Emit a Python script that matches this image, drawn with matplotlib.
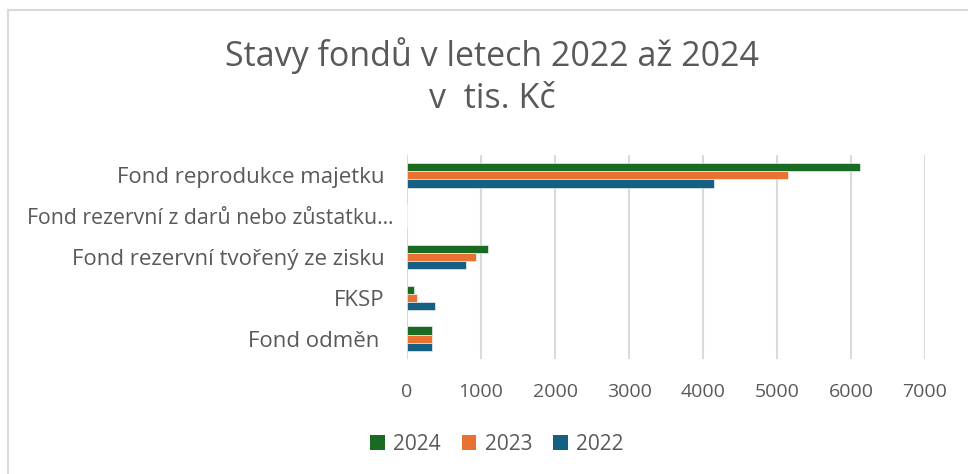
import numpy as np
import matplotlib.pyplot as plt
import matplotlib.transforms as mtransforms
from matplotlib.patches import Patch
from matplotlib.lines import Line2D

categories = [
    "Fond reprodukce majetku",
    "Fond rezervní z darů nebo zůstatku…",
    "Fond rezervní tvořený ze zisku",
    "FKSP",
    "Fond odměn ",
]
years = ["2024", "2023", "2022"]
values_2024 = [6125, 0, 1095, 95, 338]
values_2023 = [5150, 0, 932, 135, 338]
values_2022 = [4150, 0, 797, 378, 338]

colors = ["#196B24", "#E97132", "#156082"]
TEXT = "#595959"
GRID = "#D9D9D9"
FONT = "Open Sans"

plt.rcParams["font.family"] = [FONT, "DejaVu Sans"]

fig = plt.figure(figsize=(9.68, 4.74), dpi=100)
ax = fig.add_axes([407 / 968, 115 / 474, (925 - 407) / 968, (359 - 155) / 474])

y = np.arange(len(categories))
h = 0.2
series = [values_2024, values_2023, values_2022]
for i, (vals, col) in enumerate(zip(series, colors)):
    ax.barh(y + (i - 1) * h, vals, height=h, color=col, edgecolor="white", linewidth=0.4, zorder=3)

ax.set_xlim(0, 7000)
ax.set_ylim(len(categories) - 0.5, -0.5)
ax.set_xticks(np.arange(0, 7001, 1000))
ax.set_yticks(y)
ax.set_yticklabels(categories)
ax.grid(axis="x", color=GRID, linewidth=1.5, zorder=0)
for s in ax.spines.values():
    s.set_visible(False)
ax.tick_params(axis="both", length=0, colors=TEXT, labelsize=14)
ax.tick_params(axis="y", pad=16, labelsize=16)
ax.tick_params(axis="x", pad=17)

# the truncated label sticks out a little further to the right in the original
long_lbl = ax.get_yticklabels()[1]
long_lbl.set_fontsize(15.3)
long_lbl.set_transform(long_lbl.get_transform()
                       + mtransforms.ScaledTranslation(9 / 100, 0, fig.dpi_scale_trans))

fig.text(492 / 968, 1 - 56 / 474, "Stavy fondů v letech 2022 až 2024", ha="center", va="center",
         fontsize=24.5, color=TEXT)
fig.text(492 / 968, 1 - 99 / 474, "v  tis. Kč", ha="center", va="center", fontsize=24.5, color=TEXT)

handles = [Patch(facecolor=c, label=l) for c, l in zip(colors, years)]
fig.legend(handles=handles, loc="center", bbox_to_anchor=(497 / 968, 1 - 444 / 474), ncol=3,
           frameon=False, fontsize=15, labelcolor=TEXT, handlelength=0.7, handleheight=0.7,
           handletextpad=0.4, columnspacing=1.0)

fig.add_artist(Line2D([8 / 968, 1], [1 - 10 / 474] * 2, color=GRID, linewidth=1.5))
fig.add_artist(Line2D([8 / 968] * 2, [0, 1 - 10 / 474], color=GRID, linewidth=1.5))

fig.savefig("out.png", dpi=100)
